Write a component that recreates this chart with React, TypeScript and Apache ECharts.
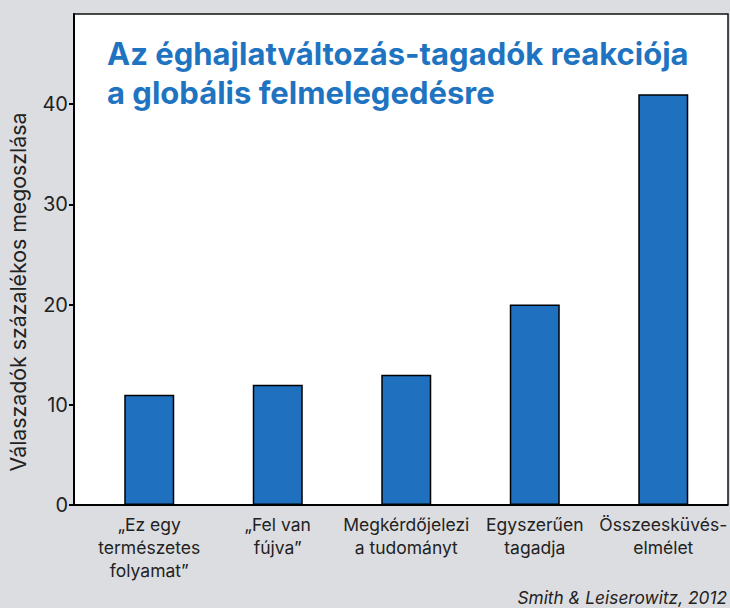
import React, { useEffect, useRef } from "react";
import * as echarts from "echarts";

const categories = [
  "„Ez egy\ntermészetes\nfolyamat”",
  "„Fel van\nfújva”",
  "Megkérdőjelezi\na tudományt",
  "Egyszerűen\ntagadja",
  "Összeesküvés-\nelmélet",
];
const values = [11, 12, 13, 20, 41];
const titleText = "Az éghajlatváltozás-tagadók reakciója\na globális felmelegedésre";
const yAxisTitle = "Válaszadók százalékos megoszlása";
const sourceText = "Smith & Leiserowitz, 2012";

const FONT = "Inter, 'Noto Sans', sans-serif";

export default function App() {
  const ref = useRef<HTMLDivElement>(null);
  useEffect(() => {
    if (!ref.current) return;
    const chart = echarts.init(ref.current, undefined, { renderer: "svg" });
    chart.setOption({
      animation: false,
      backgroundColor: "#dcdde0",
      textStyle: { fontFamily: FONT },
      grid: { left: 85, right: 0.6, top: 14, bottom: 103 },
      xAxis: {
        type: "category",
        data: categories,
        axisLine: { show: false },
        axisTick: { show: false },
        axisLabel: {
          color: "#222",
          fontSize: 17.5,
          lineHeight: 23,
          margin: 8,
          fontFamily: FONT,
          interval: 0,
        },
      },
      yAxis: {
        type: "value",
        min: 0,
        max: 49,
        interval: 10,
        offset: 11,
        axisLine: { show: true, lineStyle: { color: "#000", width: 2 } },
        axisTick: { show: true, length: 5, lineStyle: { color: "#000", width: 2 } },
        axisLabel: {
          color: "#222",
          fontSize: 20,
          margin: 6,
          fontFamily: FONT,
          showMaxLabel: false,
        },
        splitLine: { show: false },
      },
      graphic: [
        {
          type: "rect",
          z: 0,
          shape: { x: 74, y: 14, width: 654, height: 491 },
          style: { fill: "#fff", stroke: "#111", lineWidth: 1.5 },
        },
        {
          type: "line",
          z: 1,
          shape: { x1: 70, y1: 505, x2: 728, y2: 505 },
          style: { stroke: "#000", lineWidth: 2 },
        },
        {
          type: "text",
          z: 10,
          x: 107,
          y: 34,
          style: {
            text: titleText,
            fill: "#1f74c1",
            font: `bold 31px ${FONT}`,
            lineHeight: 39,
            textVerticalAlign: "top",
          },
        },
        {
          type: "text",
          z: 10,
          x: 18,
          y: 292,
          rotation: Math.PI / 2,
          style: {
            text: yAxisTitle,
            fill: "#222",
            font: `21.3px ${FONT}`,
            textAlign: "center",
            textVerticalAlign: "middle",
          },
        },
        {
          type: "text",
          z: 10,
          x: 727,
          y: 597,
          style: {
            text: sourceText,
            fill: "#222",
            font: `italic 17.3px ${FONT}`,
            textAlign: "right",
            textVerticalAlign: "middle",
          },
        },
      ],
      series: [
        {
          type: "bar",
          data: values,
          barWidth: 50,
          z: 5,
          itemStyle: { color: "#1f70be", borderColor: "#000", borderWidth: 1.5 },
        },
      ],
    });
    return () => chart.dispose();
  }, []);
  return (
    <div
      ref={ref}
      style={{ position: "fixed", left: 0, top: 0, width: 730, height: 608 }}
    />
  );
}
